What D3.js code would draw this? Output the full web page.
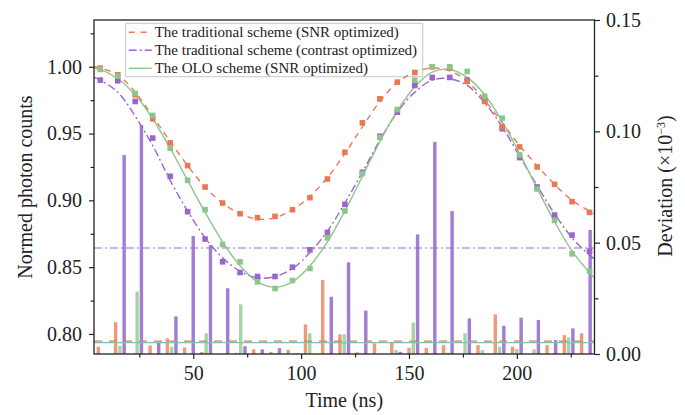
<!DOCTYPE html>
<html>
<head>
<meta charset="utf-8">
<script src="https://cdn.jsdelivr.net/npm/d3@7"></script>
<style>
body { margin: 0; background: #fff; }
text { font-family: "Liberation Serif", "Times New Roman", serif; fill: #222; }
</style>
</head>
<body>
<div id="chart"></div>
<script>
// measured points (ns)
var pointTimes = [6.9, 15.0, 23.1, 31.2, 39.3, 47.4, 55.5, 63.6, 71.7, 79.8, 87.9, 96.0, 104.1, 112.2, 120.3,
    128.4, 136.5, 144.6, 152.7, 160.8, 168.9, 177.0, 185.1, 193.2, 201.3, 209.4, 217.5, 225.6, 233.7];
var snrPoints = [0.999, 0.994, 0.979, 0.961, 0.943, 0.926, 0.910, 0.898, 0.890, 0.887, 0.888, 0.893, 0.902, 0.916, 0.936,
    0.958, 0.976, 0.9885, 0.9957, 1.000, 0.999, 0.989, 0.974, 0.955, 0.940, 0.925, 0.912, 0.899, 0.891];
var contrastPoints = [0.990, 0.9895, 0.974, 0.9466, 0.918, 0.8915, 0.871, 0.854, 0.846, 0.843, 0.843, 0.850, 0.863, 0.876, 0.897,
    0.921, 0.948, 0.966, 0.986, 0.992, 0.992, 0.990, 0.975, 0.9536, 0.932, 0.910, 0.889, 0.874, 0.862];
var oloPoints = [0.998, 0.993, 0.980, 0.9636, 0.939, 0.915, 0.893, 0.867, 0.854, 0.839, 0.834, 0.840, 0.849, 0.872, 0.892,
    0.920, 0.947, 0.968, 0.990, 1.000, 1.000, 0.9965, 0.978, 0.9616, 0.934, 0.9085, 0.885, 0.860, 0.847];

// fitted curves, read at the point times plus the two edges
var fitTimes = [4].concat(pointTimes, [236]);
var snrFit = [1.000, 0.999, 0.994, 0.981, 0.963, 0.944, 0.926, 0.910, 0.898, 0.890, 0.886, 0.887, 0.893, 0.903, 0.917, 0.935,
    0.955, 0.974, 0.988, 0.996, 0.999, 0.997, 0.989, 0.975, 0.958, 0.941, 0.926, 0.912, 0.900, 0.892, 0.890];
var contrastFit = [0.992, 0.990, 0.981, 0.963, 0.941, 0.915, 0.892, 0.872, 0.857, 0.847, 0.842, 0.843, 0.849, 0.861, 0.877, 0.898,
    0.921, 0.945, 0.966, 0.981, 0.990, 0.991, 0.986, 0.973, 0.955, 0.933, 0.911, 0.890, 0.872, 0.859, 0.856];
var oloFit = [0.999, 0.998, 0.991, 0.979, 0.961, 0.939, 0.915, 0.891, 0.869, 0.851, 0.839, 0.835, 0.839, 0.851, 0.869, 0.892,
    0.918, 0.944, 0.967, 0.985, 0.996, 0.998, 0.992, 0.979, 0.959, 0.935, 0.909, 0.884, 0.862, 0.846, 0.842];

// deviation bars (x10^-3)
var barTimes = [8, 16, 24, 32, 40, 48, 56, 64, 72, 80, 88, 96, 104, 112, 120, 128, 136, 144, 152, 160, 168, 176, 184, 192, 200, 208, 216, 224, 232];
var snrDev = [0.0033, 0.0143, 0, 0.0038, 0.0070, 0.0029, 0.0009, 0, 0.0005, 0.0021, 0.0010, 0.0019, 0.0133, 0.0332, 0.0088,
    0.0008, 0.0048, 0.0055, 0.0028, 0.0028, 0.0040, 0, 0.0040, 0.0178, 0.0033, 0, 0.0040, 0.0085, 0.0093];
var oloDev = [0, 0.0036, 0.0280, 0, 0.0033, 0, 0.0093, 0, 0.0223, 0, 0, 0, 0.0093, 0, 0.0089,
    0, 0, 0.0018, 0.0141, 0, 0.0006, 0.0093, 0.0018, 0.0033, 0.0022, 0.0021, 0, 0.0074, 0];
var contrastDev = [0, 0.0894, 0.1028, 0.0050, 0.0169, 0.0530, 0.0489, 0.0295, 0.0035, 0.0021, 0.0026, 0.0003, 0, 0.0257, 0.0412,
    0.0195, 0, 0.0010, 0.0537, 0.0953, 0.0642, 0.0160, 0, 0.0127, 0.0163, 0.0153, 0.0062, 0.0115, 0.0557];

// reference levels on the deviation axis
var snrLevel = 0.0058;
var oloLevel = 0.0051;
var contrastLevel = 0.0476;

var legendLabels = ["The traditional scheme (SNR optimized)",
    "The traditional scheme (contrast optimized)",
    "The OLO scheme (SNR optimized)"];

var xTicks = [50, 100, 150, 200];
var xMinor = [25, 75, 125, 175, 225];
var leftTicks = [0.80, 0.85, 0.90, 0.95, 1.00];
var leftMinor = [0.825, 0.875, 0.925, 0.975, 1.025];
var rightTicks = [0.00, 0.05, 0.10, 0.15];
var rightMinor = [0.025, 0.075, 0.125];

var svgWidth = 685;
var svgHeight = 415;
var margin = { top: 20, right: 90.5, bottom: 61, left: 94 };
var width = svgWidth - margin.left - margin.right;
var height = svgHeight - margin.top - margin.bottom;

var orange = "#e97855", purple = "#9a66cc", green = "#8dc68d";

var svg = d3.select("#chart").append("svg")
    .attr("width", svgWidth)
    .attr("height", svgHeight);

var chartGroup = svg.append("g")
    .attr("transform", `translate(${margin.left}, ${margin.top})`);

var xScale = d3.scaleLinear().domain([4, 236]).range([0, width]);
var yLeft = d3.scaleLinear().domain([0.785, 1.035]).range([height, 0]);
var yRight = d3.scaleLinear().domain([0, 0.15]).range([height, 0]);

// legend sits under the data
var legend = chartGroup.append("g").attr("transform", "translate(31.7, 3.3)");
legend.append("rect")
    .attr("width", 297).attr("height", 53.4)
    .attr("fill", "#fff").attr("stroke", "#c9c9c9").attr("stroke-width", 1);

var legendStyles = [
    { color: orange, dash: "6,6" },
    { color: purple, dash: "8,3,2,3" },
    { color: green, dash: null }
];
legendStyles.forEach(function(s, i) {
    var row = legend.append("g").attr("transform", `translate(0, ${9 + i * 18})`);
    row.append("line")
        .attr("x1", 3).attr("x2", 26)
        .attr("stroke", s.color).attr("stroke-width", 1.4)
        .attr("stroke-dasharray", s.dash);
    row.append("text")
        .attr("x", 29).attr("y", 4.6)
        .style("font-size", "15px")
        .text(legendLabels[i]);
});

// bars, three per group
var barSeries = [
    { values: snrDev, color: "#ee9b7d" },
    { values: oloDev, color: "#a7d4a7" },
    { values: contrastDev, color: "#a27ed2" }
];
var offset = d3.scaleBand().domain([0, 1, 2]).range([-6, 6]).paddingInner(0.2);

barSeries.forEach(function(s, k) {
    chartGroup.append("g").selectAll("rect")
        .data(s.values)
        .enter()
        .append("rect")
        .attr("x", (d, i) => xScale(barTimes[i]) + offset(k))
        .attr("y", d => yRight(d))
        .attr("width", offset.bandwidth())
        .attr("height", d => yRight(0) - yRight(d))
        .attr("fill", s.color);
});

// level lines
chartGroup.append("line")
    .attr("x1", 0).attr("x2", width)
    .attr("y1", yRight(contrastLevel)).attr("y2", yRight(contrastLevel))
    .attr("stroke", purple).attr("stroke-width", 1.2).attr("stroke-dasharray", "8,3,2,3");
chartGroup.append("line")
    .attr("x1", 0).attr("x2", width)
    .attr("y1", yRight(snrLevel)).attr("y2", yRight(snrLevel))
    .attr("stroke", orange).attr("stroke-width", 1.2).attr("stroke-dasharray", "8,7");
chartGroup.append("line")
    .attr("x1", 0).attr("x2", width)
    .attr("y1", yRight(oloLevel)).attr("y2", yRight(oloLevel))
    .attr("stroke", "#87bdb3").attr("stroke-width", 1.3);

// fit curves
var fitLine = d3.line()
    .x((d, i) => xScale(fitTimes[i]))
    .y(d => yLeft(d))
    .curve(d3.curveCatmullRom);

var curves = [
    { values: contrastFit, color: purple, dash: "8,3,2,3" },
    { values: snrFit, color: orange, dash: "6,5" },
    { values: oloFit, color: green, dash: null }
];
curves.forEach(function(c) {
    chartGroup.append("path")
        .datum(c.values)
        .attr("d", fitLine)
        .attr("fill", "none")
        .attr("stroke", c.color)
        .attr("stroke-width", 1.4)
        .attr("stroke-dasharray", c.dash);
});

// square markers
var markerSets = [
    { values: contrastPoints, color: purple },
    { values: snrPoints, color: orange },
    { values: oloPoints, color: green }
];
var sq = 5.6;
markerSets.forEach(function(m) {
    chartGroup.append("g").selectAll("rect")
        .data(m.values)
        .enter()
        .append("rect")
        .attr("x", (d, i) => xScale(pointTimes[i]) - sq / 2)
        .attr("y", d => yLeft(d) - sq / 2)
        .attr("width", sq).attr("height", sq)
        .attr("fill", m.color);
});

// axes
var fmt = d3.format(".2f");
function styleAxis(g) {
    g.select(".domain").remove();
    g.selectAll("line").attr("stroke", "#222").attr("stroke-width", 1.2);
    g.selectAll("text").style("font-size", "20px").attr("fill", "#222");
}

chartGroup.append("g")
    .attr("transform", `translate(0, ${height})`)
    .call(d3.axisBottom(xScale).tickValues(xTicks).tickSize(5).tickPadding(7))
    .call(styleAxis);
chartGroup.append("g")
    .attr("transform", `translate(0, ${height})`)
    .call(d3.axisBottom(xScale).tickValues(xMinor).tickSize(3.5).tickFormat(""))
    .call(styleAxis);

chartGroup.append("g")
    .call(d3.axisLeft(yLeft).tickValues(leftTicks).tickFormat(fmt).tickSize(5).tickPadding(7))
    .call(styleAxis);
chartGroup.append("g")
    .call(d3.axisLeft(yLeft).tickValues(leftMinor).tickSize(3.5).tickFormat(""))
    .call(styleAxis);

chartGroup.append("g")
    .attr("transform", `translate(${width}, 0)`)
    .call(d3.axisRight(yRight).tickValues(rightTicks).tickFormat(fmt).tickSize(5.5).tickPadding(6))
    .call(styleAxis);
chartGroup.append("g")
    .attr("transform", `translate(${width}, 0)`)
    .call(d3.axisRight(yRight).tickValues(rightMinor).tickSize(4).tickFormat(""))
    .call(styleAxis);

// frame
chartGroup.append("rect")
    .attr("width", width).attr("height", height)
    .attr("fill", "none").attr("stroke", "#222").attr("stroke-width", 1.3);

// axis titles
svg.append("text")
    .attr("x", margin.left + width / 2).attr("y", 407)
    .attr("text-anchor", "middle")
    .style("font-size", "20px")
    .text("Time (ns)");

svg.append("text")
    .attr("transform", `translate(32, ${margin.top + height / 2}) rotate(-90)`)
    .attr("text-anchor", "middle")
    .style("font-size", "20px")
    .text("Normed photon counts");

var rightTitle = svg.append("text")
    .attr("transform", `translate(672, ${margin.top + height / 2 - 1}) rotate(-90)`)
    .attr("text-anchor", "middle")
    .style("font-size", "20px");
rightTitle.append("tspan").text("Deviation (×10");
rightTitle.append("tspan").attr("dy", "-0.55em").style("font-size", "12px").text("−3");
rightTitle.append("tspan").attr("dy", "0.33em").text(")");
</script>
</body>
</html>
